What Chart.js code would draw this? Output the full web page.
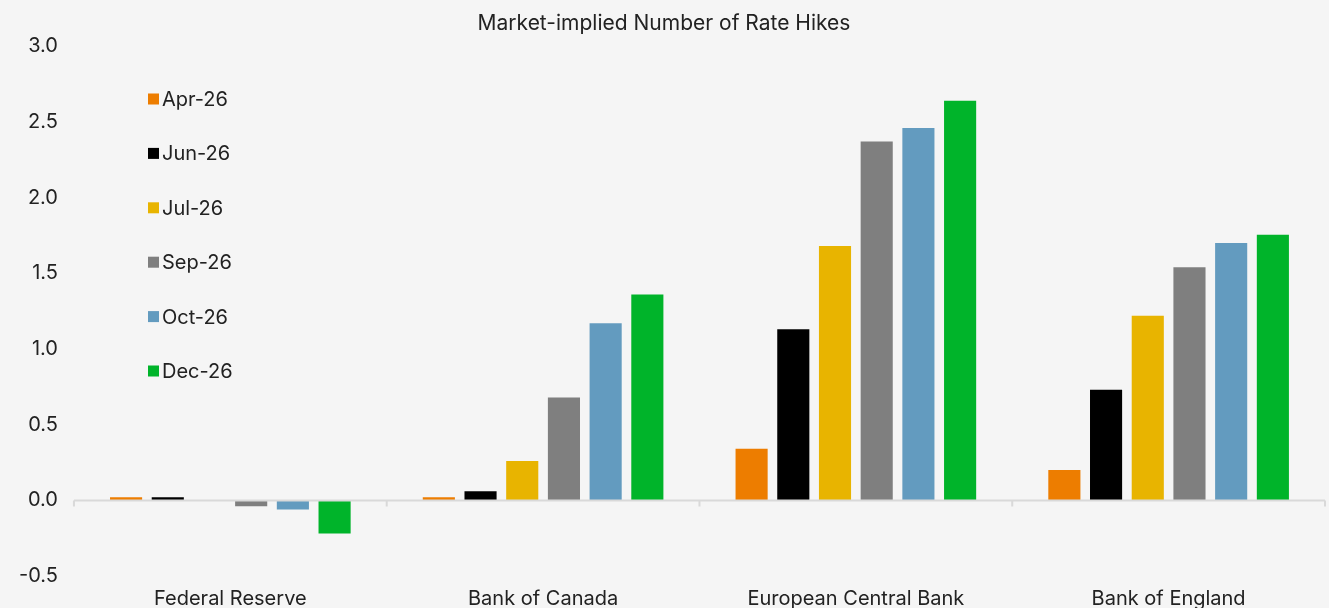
<!DOCTYPE html>
<html>
<head>
<meta charset="utf-8">
<script src="https://cdn.jsdelivr.net/npm/chart.js@4"></script>
<style>
  html, body { margin: 0; padding: 0; background: #f5f5f5; overflow: hidden; }
  #wrap { width: 1329px; height: 614px; }
</style>
</head>
<body>
<div id="wrap"><canvas id="hikesChart"></canvas></div>
<script>
// Chart data
const banks = ["Federal Reserve", "Bank of Canada", "European Central Bank", "Bank of England"];
const apr26 = [0.02, 0.02, 0.34, 0.20];
const jun26 = [0.02, 0.06, 1.13, 0.73];
const jul26 = [-0.005, 0.26, 1.68, 1.22];
const sep26 = [-0.04, 0.68, 2.37, 1.54];
const oct26 = [-0.06, 1.17, 2.46, 1.70];
const dec26 = [-0.22, 1.36, 2.64, 1.755];
const seriesNames = ["Apr-26", "Jun-26", "Jul-26", "Sep-26", "Oct-26", "Dec-26"];
const seriesColors = ["#ED7D00", "#000000", "#E8B400", "#7F7F7F", "#639BBF", "#00B42A"];

const fontFamily = "Inter, 'DejaVu Sans', sans-serif";

// Zero line with small ticks between categories
const zeroLine = {
    id: "zeroLine",
    afterDatasetsDraw(chart) {
        const { ctx, chartArea, scales } = chart;
        const y0 = Math.round(scales.y.getPixelForValue(0)) + 0.5;
        ctx.save();
        ctx.strokeStyle = "#d9d9d9";
        ctx.lineWidth = 2;
        ctx.beginPath();
        ctx.moveTo(chartArea.left, y0);
        ctx.lineTo(chartArea.right, y0);
        const n = banks.length;
        const step = (chartArea.right - chartArea.left) / n;
        for (let i = 0; i <= n; i++) {
            const x = chartArea.left + step * i;
            ctx.moveTo(x, y0);
            ctx.lineTo(x, y0 + 6);
        }
        ctx.stroke();
        ctx.restore();
    }
};

// Legend drawn inside the plot, top-left
const innerLegend = {
    id: "innerLegend",
    afterDraw(chart) {
        const { ctx } = chart;
        ctx.save();
        ctx.font = "20px " + fontFamily;
        ctx.textBaseline = "middle";
        chart.data.datasets.forEach((ds, i) => {
            const y = 99 + i * 54.4;
            ctx.fillStyle = ds.backgroundColor;
            ctx.fillRect(148, y - 5.5, 11, 11);
            ctx.fillStyle = "#222";
            ctx.fillText(ds.label, 162, y + 1);
        });
        ctx.restore();
    }
};

const allSeries = [apr26, jun26, jul26, sep26, oct26, dec26];

new Chart(document.getElementById("hikesChart"), {
    type: "bar",
    data: {
        labels: banks,
        datasets: allSeries.map((vals, i) => ({
            label: seriesNames[i],
            data: vals,
            backgroundColor: seriesColors[i],
            barPercentage: 0.77,
            categoryPercentage: 0.8
        }))
    },
    options: {
        responsive: true,
        maintainAspectRatio: false,
        animation: false,
        layout: { padding: { left: 3, right: 4, top: 0, bottom: 0 } },
        plugins: {
            legend: { display: false },
            tooltip: { enabled: false },
            title: {
                display: true,
                text: "Market-implied Number of Rate Hikes",
                color: "#222",
                font: { family: fontFamily, size: 21, weight: "normal" },
                padding: { top: 11, bottom: 10 }
            }
        },
        scales: {
            x: {
                grid: { display: false },
                border: { display: false },
                ticks: {
                    color: "#222",
                    font: { family: fontFamily, size: 20 },
                    padding: 3
                }
            },
            y: {
                min: -0.5,
                max: 3.0,
                grid: { display: false, drawTicks: false },
                border: { display: false },
                ticks: {
                    stepSize: 0.5,
                    color: "#222",
                    font: { family: fontFamily, size: 20 },
                    padding: 16,
                    callback: v => v.toFixed(1)
                }
            }
        }
    },
    plugins: [zeroLine, innerLegend]
});
</script>
</body>
</html>
